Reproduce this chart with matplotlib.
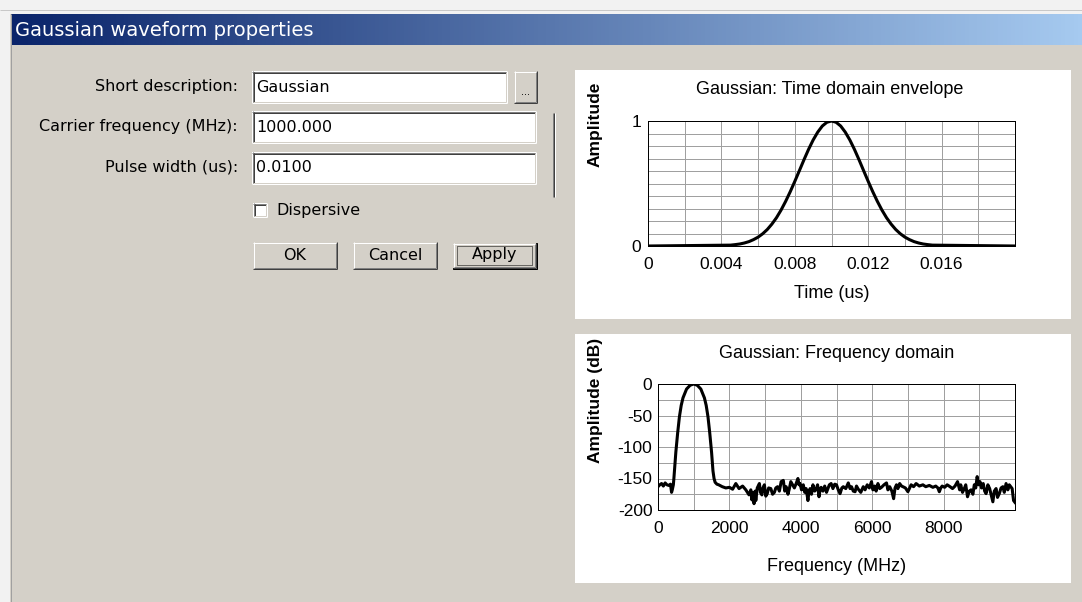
#!/usr/bin/env python3
"""Gaussian waveform properties dialog: form on the left, time / frequency plots on the right."""
import numpy as np
import matplotlib
matplotlib.use("Agg")
import matplotlib.pyplot as plt
from matplotlib import font_manager as fm
from matplotlib.patches import Rectangle
from matplotlib.colors import LinearSegmentedColormap

# ---- data -------------------------------------------------------------
time_us = [0.0, 0.0045, 0.00475, 0.005, 0.00525, 0.0055, 0.00575, 0.006,
           0.00625, 0.0065, 0.00675, 0.007, 0.00725, 0.0075, 0.00775, 0.008,
           0.00825, 0.0085, 0.00875, 0.009, 0.00925, 0.0095, 0.00975, 0.01,
           0.01025, 0.0105, 0.01075, 0.011, 0.01125, 0.0115, 0.01175, 0.012,
           0.01225, 0.0125, 0.01275, 0.013, 0.01325, 0.0135, 0.01375, 0.014,
           0.01425, 0.0145, 0.01475, 0.015, 0.01525, 0.0155, 0.02]
envelope = [0.0, 0.007, 0.011, 0.016, 0.024, 0.035, 0.051, 0.071,
            0.098, 0.132, 0.175, 0.226, 0.287, 0.357, 0.434, 0.517,
            0.603, 0.690, 0.773, 0.848, 0.911, 0.960, 0.990, 1.0,
            0.990, 0.960, 0.911, 0.848, 0.773, 0.690, 0.603, 0.517,
            0.434, 0.357, 0.287, 0.226, 0.175, 0.132, 0.098, 0.071,
            0.051, 0.035, 0.024, 0.016, 0.011, 0.007, 0.0]

freq_mhz = [0, 50, 100, 150, 200, 250, 300, 350, 380, 400,
            430, 445, 470, 500, 550, 600, 650, 700, 800, 900,
            1000, 1100, 1200, 1300, 1350, 1400, 1450, 1500, 1540, 1570,
            1600, 1650, 1700, 1800, 1900, 2000, 2090, 2180, 2270, 2370,
            2460, 2550, 2600, 2630, 2660, 2690, 2720, 2740, 2780, 2840,
            2870, 2910, 2940, 2980, 3020, 3060, 3100, 3160, 3210, 3260,
            3300, 3350, 3400, 3450, 3510, 3550, 3590, 3640, 3680, 3720,
            3770, 3820, 3870, 3920, 3950, 3980, 4020, 4070, 4110, 4150,
            4200, 4230, 4260, 4300, 4340, 4390, 4430, 4470, 4510, 4540,
            4570, 4620, 4670, 4720, 4760, 4800, 4850, 4900, 4950, 5000,
            5050, 5100, 5150, 5190, 5260, 5330, 5380, 5420, 5470, 5520,
            5560, 5610, 5680, 5750, 5800, 5860, 5920, 5980, 6020, 6070,
            6110, 6160, 6210, 6260, 6330, 6400, 6440, 6490, 6550, 6600,
            6640, 6680, 6720, 6770, 6820, 6860, 6930, 7000, 7050, 7090,
            7160, 7230, 7320, 7420, 7500, 7600, 7700, 7780, 7840, 7880,
            7920, 7960, 8030, 8100, 8180, 8250, 8320, 8390, 8450, 8480,
            8530, 8580, 8620, 8670, 8720, 8770, 8820, 8860, 8900, 8940,
            8980, 9020, 9060, 9110, 9150, 9190, 9240, 9290, 9340, 9380,
            9420, 9470, 9510, 9560, 9610, 9660, 9700, 9750, 9800, 9840,
            9880, 9920, 9960, 10000]
spectrum_db = [-163, -160, -158, -162, -157, -160, -161, -159, -172, -168,
               -160, -150, -130, -108, -78, -52, -34, -22, -8, -2,
               0, -2, -8, -22, -34, -52, -78, -108, -138, -150,
               -156, -159, -160, -163, -165, -164, -167, -158, -166, -162,
               -168, -176, -168, -184, -172, -190, -170, -185, -165, -158,
               -172, -176, -165, -160, -178, -174, -165, -166, -175, -172,
               -165, -163, -170, -155, -153, -170, -163, -175, -166, -155,
               -160, -165, -158, -150, -160, -158, -168, -160, -172, -166,
               -185, -170, -166, -175, -160, -170, -167, -160, -179, -168,
               -164, -170, -162, -172, -166, -160, -158, -166, -159, -160,
               -168, -174, -165, -163, -166, -157, -166, -163, -170, -171,
               -162, -167, -172, -163, -168, -160, -165, -155, -168, -162,
               -170, -158, -166, -164, -160, -157, -168, -163, -170, -182,
               -165, -160, -166, -158, -162, -163, -165, -171, -165, -160,
               -163, -158, -162, -160, -163, -161, -164, -162, -165, -171,
               -165, -162, -164, -160, -163, -166, -162, -155, -168, -160,
               -172, -166, -160, -179, -170, -168, -175, -160, -165, -147,
               -160, -155, -165, -158, -170, -174, -160, -166, -178, -187,
               -170, -166, -180, -174, -165, -163, -172, -158, -168, -160,
               -163, -166, -185, -188]

time_ticks = [0, 0.004, 0.008, 0.012, 0.016]
time_tick_labels = ["0", "0.004", "0.008", "0.012", "0.016"]
freq_ticks = [0, 2000, 4000, 6000, 8000]
db_ticks = [0, -50, -100, -150, -200]

field_labels = ["Short description:", "Carrier frequency (MHz):", "Pulse width (us):"]
field_values = ["Gaussian", "1000.000", "0.0100"]
button_labels = ["OK", "Cancel", "Apply"]

# ---- look --------------------------------------------------------------
W, H = 1082, 602
FACE = "#D4D0C8"


def pick_font(*names):
    for n in names:
        try:
            fm.findfont(fm.FontProperties(family=n), fallback_to_default=False)
            return n
        except ValueError:
            pass
    return "DejaVu Sans"


UI_FONT = pick_font("DejaVu Sans")
ARIAL = pick_font("Liberation Sans", "DejaVu Sans")
NARROW = pick_font("Liberation Sans Narrow", "Liberation Sans", "DejaVu Sans")
plt.rcParams["axes.unicode_minus"] = False

fig = plt.figure(figsize=(W / 100, H / 100), dpi=100, facecolor="#F2F2F2")

# full-figure overlay in pixel coordinates for the dialog chrome
ui = fig.add_axes([0, 0, 1, 1], zorder=0)
ui.set_xlim(0, W)
ui.set_ylim(H, 0)
ui.axis("off")
PX = 0.72  # one pixel in points


def hline(x0, x1, y, c):
    ui.plot([x0, x1], [y, y], color=c, lw=PX, solid_capstyle="butt")


def vline(x, y0, y1, c):
    ui.plot([x, x], [y0, y1], color=c, lw=PX, solid_capstyle="butt")


def sunken(x0, y0, x1, y1):
    ui.add_patch(Rectangle((x0, y0), x1 - x0, y1 - y0, fc="white", ec="none"))
    hline(x0, x1, y0 + 0.5, "#808080"); vline(x0 + 0.5, y0, y1, "#808080")
    hline(x0 + 1, x1 - 1, y0 + 1.5, "#404040"); vline(x0 + 1.5, y0 + 1, y1 - 1, "#404040")
    hline(x0, x1, y1 - 0.5, "white"); vline(x1 - 0.5, y0, y1, "white")
    hline(x0 + 1, x1 - 1, y1 - 1.5, FACE); vline(x1 - 1.5, y0 + 1, y1 - 1, FACE)


def raised(x0, y0, x1, y1):
    ui.add_patch(Rectangle((x0, y0), x1 - x0, y1 - y0, fc=FACE, ec="none"))
    hline(x0, x1, y0 + 0.5, "white"); vline(x0 + 0.5, y0, y1, "white")
    hline(x0, x1, y1 - 0.5, "#404040"); vline(x1 - 0.5, y0, y1, "#404040")
    hline(x0 + 1, x1 - 1, y1 - 1.5, "#808080"); vline(x1 - 1.5, y0 + 1, y1 - 1, "#808080")


# dialog body + caption bar
ui.add_patch(Rectangle((10, 14), W - 10, H - 14, fc=FACE, ec="none"))
hline(0, W, 9.5, "#C8C8C8")
vline(10.5, 14, H, "#A0A0A0")
cap = LinearSegmentedColormap.from_list("cap", ["#0A246A", "#A6CAF0"])
ui.imshow(np.linspace(0, 1, 256)[None, :], cmap=cap, aspect="auto",
          extent=(11, W, 45, 14), zorder=1)
ui.set_xlim(0, W)
ui.set_ylim(H, 0)
ui.text(15, 30, "Gaussian waveform properties", color="white", fontsize=14,
        family=UI_FONT, va="center", ha="left", zorder=2)

# form fields
label_y = [86, 126, 167]
box_rows = [(71, 103), (111, 143), (152, 184)]
box_right = [507, 536, 536]
for lab, val, ly, (b0, b1), br in zip(field_labels, field_values, label_y, box_rows, box_right):
    ui.text(238, ly, lab, fontsize=11.5, family=UI_FONT, ha="right", va="center", color="black")
    sunken(252, b0, br, b1)
    ui.text(256, ly + 1, val, fontsize=11.5, family=UI_FONT, ha="left", va="center", color="black")

raised(514, 71, 537, 103)
ui.text(525.5, 97, "...", fontsize=7, family=UI_FONT, ha="center", va="bottom")

# thin vertical bar right of the fields
vline(552.5, 113, 197, "#808080")
vline(553.5, 113, 197, "#404040")
vline(554.5, 113, 197, "white")

sunken(253, 203, 267, 217)
ui.text(276, 210, "Dispersive", fontsize=11.5, family=UI_FONT, ha="left", va="center")

buttons = [(253, 337), (353, 437), (452, 537)]
for name, (bx0, bx1) in zip(button_labels, buttons):
    if name == "Apply":
        ui.add_patch(Rectangle((bx0 + 0.5, 242.5), bx1 - bx0 - 1, 26, fill=False, ec="black", lw=PX))
        raised(bx0 + 1, 243, bx1 - 1, 268)
        ui.add_patch(Rectangle((bx0 + 5, 246), bx1 - bx0 - 10, 19, fill=False, ec="black",
                               lw=PX, ls=(0, (1, 1))))
    else:
        raised(bx0, 242, bx1, 269)
    ui.text((bx0 + bx1) / 2, 255, name, fontsize=11.5, family=UI_FONT, ha="center", va="center")

# white plot panels
ui.add_patch(Rectangle((575, 70), 1071 - 575, 319 - 70, fc="white", ec="none"))
ui.add_patch(Rectangle((575, 334), 1071 - 575, 583 - 334, fc="white", ec="none"))


def px_axes(x0, y0, x1, y1):
    return fig.add_axes([x0 / W, 1 - y1 / H, (x1 - x0) / W, (y1 - y0) / H], zorder=2)


def style(ax, xgrid, ygrid):
    ax.set_facecolor("white")
    ax.set_xticks(xgrid, minor=True)
    ax.set_yticks(ygrid, minor=True)
    ax.grid(True, which="both", color="#A0A0A0", lw=PX)
    ax.tick_params(which="both", length=0)
    for s in ax.spines.values():
        s.set_color("black")
        s.set_linewidth(PX)
    ax.set_axisbelow(True)


def tick_fonts(ax):
    for lab in ax.get_xticklabels() + ax.get_yticklabels():
        lab.set_family(NARROW)
        lab.set_fontsize(12.5)


# time domain envelope
ax1 = px_axes(648, 121, 1015, 246)
ax1.plot(time_us, envelope, color="black", lw=2.2, solid_joinstyle="round")
ax1.set_xlim(0, 0.02)
ax1.set_ylim(0, 1)
ax1.set_xticks(time_ticks, time_tick_labels)
ax1.set_yticks([0, 1], ["0", "1"])
style(ax1, [0.002 * i for i in range(11)], [0.1 * i for i in range(11)])
ax1.tick_params(axis="x", pad=8)
ax1.tick_params(axis="y", pad=5)
tick_fonts(ax1)
ax1.set_title("Gaussian: Time domain envelope", family=ARIAL, fontsize=13,
              x=0.496, y=1.256, va="center", pad=0)
ax1.set_xlabel("Time (us)", family=ARIAL, fontsize=13, va="center")
ax1.xaxis.set_label_coords(0.501, -0.376)
ax1.set_ylabel("Amplitude", family=ARIAL, fontsize=12.5, fontweight="bold", va="center")
ax1.yaxis.set_label_coords(-0.144, 0.976)

# frequency domain
ax2 = px_axes(658, 384, 1015, 510)
ax2.plot(freq_mhz, spectrum_db, color="black", lw=2.2, solid_joinstyle="round")
ax2.set_xlim(0, 10000)
ax2.set_ylim(-200, 0)
ax2.set_xticks(freq_ticks, [str(v) for v in freq_ticks])
ax2.set_yticks(db_ticks, [str(v) for v in db_ticks])
style(ax2, [1000 * i for i in range(11)], [-25 * i for i in range(9)])
ax2.tick_params(axis="x", pad=8)
ax2.tick_params(axis="y", pad=4)
tick_fonts(ax2)
ax2.set_title("Gaussian: Frequency domain", family=ARIAL, fontsize=13,
              x=0.501, y=1.246, va="center", pad=0)
ax2.set_xlabel("Frequency (MHz)", family=ARIAL, fontsize=13, va="center")
ax2.xaxis.set_label_coords(0.501, -0.452)
ax2.set_ylabel("Amplitude (dB)", family=ARIAL, fontsize=12.5, fontweight="bold", va="center")
ax2.yaxis.set_label_coords(-0.176, 0.873)

fig.savefig("out.png", dpi=100, facecolor=fig.get_facecolor())
